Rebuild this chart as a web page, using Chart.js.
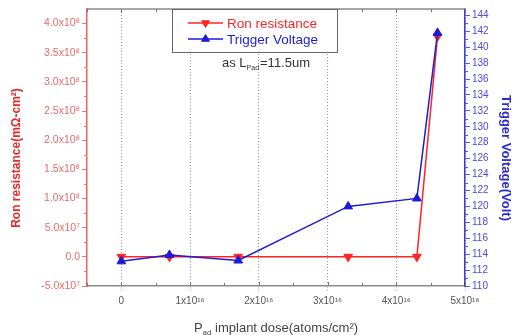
<!DOCTYPE html>
<html><head><meta charset="utf-8">
<style>html,body{margin:0;padding:0;background:#fff}#wrap{width:513px;height:335px;position:relative}</style>
<script src="https://cdn.jsdelivr.net/npm/chart.js@4/dist/chart.umd.min.js"></script>
</head><body><div id="wrap"><canvas id="c" width="513" height="335"></canvas></div>
<script>
// ---- data ----
const doses = [0, 0.7e16, 1.7e16, 3.3e16, 4.3e16, 4.6e16];
const ronResistance = [0, 0, 0, 0, 0, 3.78e8];
const triggerVoltage = [113.1, 113.9, 113.2, 120.0, 121.0, 141.8];
const xTickValues = [0, 1e16, 2e16, 3e16, 4e16, 5e16];
const xTickLabels = ['0', '1x10¹⁶', '2x10¹⁶', '3x10¹⁶', '4x10¹⁶', '5x10¹⁶'];
const ronTickValues = [-5e7, 0, 5e7, 1e8, 1.5e8, 2e8, 2.5e8, 3e8, 3.5e8, 4e8];
const ronTickLabels = ['-5.0x10⁷', '0.0', '5.0x10⁷', '1.0x10⁸', '1.5x10⁸', '2.0x10⁸', '2.5x10⁸', '3.0x10⁸', '3.5x10⁸', '4.0x10⁸'];
const voltTickValues = [110, 112, 114, 116, 118, 120, 122, 124, 126, 128, 130, 132, 134, 136, 138, 140, 142, 144];
const voltTickLabels = voltTickValues.map(String);
const seriesNames = ['Ron resistance', 'Trigger Voltage'];

const RED = '#ff2424', BLUE = '#1c1cd8';
const FONT = '"Liberation Sans", Arial, sans-serif';

function labelFor(values, labels) {
  return v => { const i = values.findIndex(t => Math.abs(t - v) < 1e-6 * Math.max(1, Math.abs(t))); return i >= 0 ? labels[i] : ''; };
}

const decor = {
  id: 'decor',
  afterDraw(chart) {
    const ctx = chart.ctx, a = chart.chartArea;
    const sx = chart.scales.x, sy = chart.scales.y, sv = chart.scales.y2;
    ctx.save();
    // top frame
    ctx.strokeStyle = '#8a8a8a'; ctx.lineWidth = 1.5;
    ctx.beginPath(); ctx.moveTo(a.left, a.top); ctx.lineTo(a.right, a.top); ctx.stroke();
    ctx.lineWidth = 1;
    // minor ticks x (bottom & top, inward)
    ctx.strokeStyle = '#777';
    for (let v = -0.5e16; v <= 5e16 + 1; v += 0.5e16) {
      const p = Math.round(sx.getPixelForValue(v)) + 0.5;
      const major = Math.abs(v / 1e16 - Math.round(v / 1e16)) < 1e-6;
      const len = major ? 4 : 3;
      ctx.beginPath(); ctx.moveTo(p, a.bottom); ctx.lineTo(p, a.bottom - len); ctx.stroke();
      ctx.beginPath(); ctx.moveTo(p, a.top); ctx.lineTo(p, a.top + len); ctx.stroke();
    }
    // minor ticks left
    ctx.strokeStyle = '#f07070';
    for (let v = -2.5e7; v < 4.25e8; v += 5e7) {
      const p = Math.round(sy.getPixelForValue(v)) + 0.5;
      ctx.beginPath(); ctx.moveTo(a.left, p); ctx.lineTo(a.left - 3, p); ctx.stroke();
    }
    // minor ticks right
    ctx.strokeStyle = '#5a5ae0';
    for (let v = 111; v < 145; v += 2) {
      const p = Math.round(sv.getPixelForValue(v)) + 0.5;
      ctx.beginPath(); ctx.moveTo(a.right, p); ctx.lineTo(a.right + 3, p); ctx.stroke();
    }
    // axis titles
    ctx.textAlign = 'center'; ctx.textBaseline = 'middle';
    ctx.font = 'bold 12px ' + FONT;
    ctx.fillStyle = '#e82a2a';
    ctx.save(); ctx.translate(17, 158); ctx.rotate(-Math.PI / 2);
    ctx.fillText('Ron resistance(mΩ-cm²)', 0, 0); ctx.restore();
    ctx.font = 'bold 13px ' + FONT;
    ctx.fillStyle = '#2a2ad0';
    ctx.save(); ctx.translate(506, 158); ctx.rotate(Math.PI / 2);
    ctx.fillText('Trigger Voltage(Volt)', 0, 0); ctx.restore();
    // x title with subscript
    ctx.fillStyle = '#444';
    ctx.textAlign = 'left'; ctx.textBaseline = 'alphabetic';
    const big = '13px ' + FONT, small = '8px ' + FONT;
    const p1 = 'P', p2 = 'ad', p3 = ' implant dose(atoms/cm²)';
    ctx.font = big; const w1 = ctx.measureText(p1).width, w3 = ctx.measureText(p3).width;
    ctx.font = small; const w2 = ctx.measureText(p2).width;
    let x0 = 276 - (w1 + w2 + w3) / 2; const by = 332;
    ctx.font = big; ctx.fillText(p1, x0, by); x0 += w1;
    ctx.font = small; ctx.fillText(p2, x0, by + 3); x0 += w2;
    ctx.font = big; ctx.fillText(p3, x0, by);
    // legend box
    ctx.fillStyle = '#fff'; ctx.strokeStyle = '#666'; ctx.lineWidth = 1;
    ctx.fillRect(172, 9, 165, 43); ctx.strokeRect(172.5, 9.5, 165, 43);
    const ds = chart.data.datasets;
    const rows = [{ y: 23, d: ds[0], rot: 180 }, { y: 39, d: ds[1], rot: 0 }];
    ctx.font = '13.5px ' + FONT; ctx.textBaseline = 'middle';
    rows.forEach(r => {
      ctx.strokeStyle = r.d.borderColor; ctx.lineWidth = 1.5;
      ctx.beginPath(); ctx.moveTo(188, r.y); ctx.lineTo(223, r.y); ctx.stroke();
      ctx.fillStyle = r.d.borderColor; ctx.lineWidth = 1;
      Chart.helpers.drawPoint(ctx, { pointStyle: 'triangle', radius: 4.5, rotation: r.rot, borderWidth: 1 }, 205.5, r.y);
      ctx.fillStyle = r.d.borderColor;
      ctx.fillText(r.d.label, 227, r.y + 1);
    });
    // annotation
    ctx.fillStyle = '#333';
    ctx.textBaseline = 'alphabetic';
    let ax = 222; const ay = 67;
    ctx.font = '13px ' + FONT; ctx.fillText('as L', ax, ay); ax += ctx.measureText('as L').width;
    ctx.font = '7px ' + FONT; ctx.fillText('Pad', ax, ay + 3); ax += ctx.measureText('Pad').width + 1;
    ctx.font = '13px ' + FONT; ctx.fillText('=11.5um', ax, ay);
    ctx.restore();
  }
};

const pts = ys => doses.map((x, i) => ({ x, y: ys[i] }));

new Chart(document.getElementById('c'), {
  type: 'line',
  data: {
    datasets: [
      { label: seriesNames[0], data: pts(ronResistance), yAxisID: 'y', borderColor: RED, backgroundColor: RED,
        borderWidth: 1.5, pointStyle: 'triangle', pointRotation: 180, pointRadius: 5, pointBorderWidth: 1, order: 1, tension: 0 },
      { label: seriesNames[1], data: pts(triggerVoltage), yAxisID: 'y2', borderColor: BLUE, backgroundColor: BLUE,
        borderWidth: 1.5, pointStyle: 'triangle', pointRadius: 5, pointBorderWidth: 1, order: 0, tension: 0 }
    ]
  },
  options: {
    responsive: false, animation: false, devicePixelRatio: 1,
    layout: { padding: { top: 9, left: 0, right: 0, bottom: 0 } },
    plugins: { legend: { display: false }, tooltip: { enabled: false } },
    scales: {
      x: {
        type: 'linear', position: 'bottom', min: -0.5e16, max: 5e16,
        afterBuildTicks: s => { s.ticks = xTickValues.map(v => ({ value: v })); },
        afterFit: s => { s.height = 49; },
        grid: { color: 'rgba(100,100,235,0.75)', lineWidth: 1, drawTicks: true, tickLength: 5, tickColor: 'rgba(100,100,235,0.7)', tickBorderDash: [1, 2] },
        border: { color: '#8a8a8a', width: 1.5, dash: [1, 2] },
        ticks: { callback: labelFor(xTickValues, xTickLabels), color: '#555', font: { family: FONT, size: 10 }, padding: 4, maxRotation: 0, autoSkip: false }
      },
      y: {
        type: 'linear', position: 'left', min: -5e7, max: 4.25e8,
        afterBuildTicks: s => { s.ticks = ronTickValues.map(v => ({ value: v })); },
        afterFit: s => { s.width = 87; },
        grid: { drawOnChartArea: false, tickLength: 5, tickColor: '#f07070' },
        border: { color: '#f06060', width: 1.5 },
        ticks: { callback: labelFor(ronTickValues, ronTickLabels), color: '#e86a6a', font: { family: FONT, size: 10.5 }, padding: 2, autoSkip: false }
      },
      y2: {
        type: 'linear', position: 'right', min: 110, max: 144.8,
        afterBuildTicks: s => { s.ticks = voltTickValues.map(v => ({ value: v })); },
        afterFit: s => { s.width = 48; },
        grid: { drawOnChartArea: false, tickLength: 5, tickColor: '#5a5ae0' },
        border: { color: '#3a3ae0', width: 1.5 },
        ticks: { callback: labelFor(voltTickValues, voltTickLabels), color: '#4a4ae0', font: { family: FONT, size: 10 }, padding: 2, autoSkip: false }
      }
    }
  },
  plugins: [decor]
});
</script></body></html>
